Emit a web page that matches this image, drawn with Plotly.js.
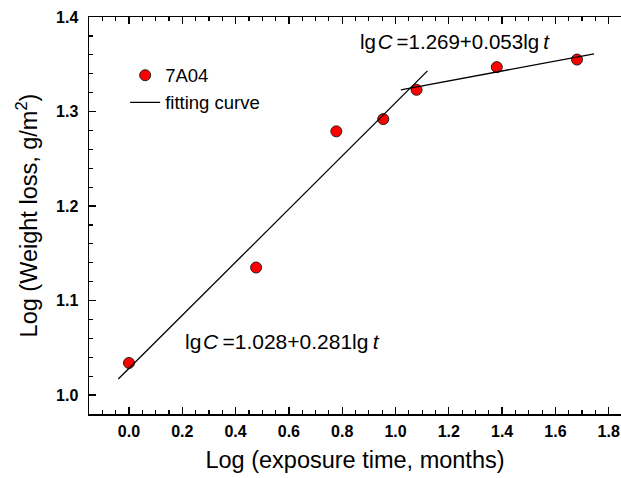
<!DOCTYPE html>
<html>
<head>
<meta charset="utf-8">
<script src="https://cdn.plot.ly/plotly-3.0.1.min.js"></script>
<style>html,body{margin:0;padding:0;background:#fff;}#chart{width:621px;height:478px;}</style>
</head>
<body>
<div id="chart"></div>
<script>
// Measured data (log exposure time, log weight loss)
const logTime = [0.0, 0.477, 0.778, 0.954, 1.079, 1.380, 1.681];
const logLoss = [1.034, 1.135, 1.279, 1.292, 1.323, 1.347, 1.355];
// Fitting lines (end points)
const fit1X = [-0.04, 1.12];
const fit1Y = [1.017, 1.343];
const fit2X = [1.02, 1.745];
const fit2Y = [1.323, 1.361];
const eq1 = 'lg\u200A<i>C</i>\u2009=1.028+0.281lg\u2009<i>t</i>';
const eq2 = 'lg\u200A<i>C</i>\u2009=1.269+0.053lg\u2009<i>t</i>';

const font = 'Arial, "Liberation Sans", sans-serif';

const traces = [
  {x: logTime, y: logLoss, type: 'scatter', mode: 'markers', name: '7A04',
   marker: {color: '#ff0000', size: 11, line: {color: '#222', width: 1}}},
  {x: fit1X, y: fit1Y, type: 'scatter', mode: 'lines', name: 'fitting curve',
   line: {color: '#000', width: 1.3}},
  {x: fit2X, y: fit2Y, type: 'scatter', mode: 'lines', name: 'fitting curve 2', showlegend: false,
   line: {color: '#000', width: 1.3}}
];

const layout = {
  width: 621, height: 478,
  margin: {l: 89, r: 0, t: 17, b: 64},
  paper_bgcolor: '#fff', plot_bgcolor: '#fff',
  font: {family: font, color: '#000'},
  showlegend: true,
  legend: {x: 0.068, y: 0.9, xanchor: 'left', yanchor: 'top', bgcolor: 'rgba(0,0,0,0)',
           font: {size: 18.5, family: font}, tracegroupgap: 0},
  xaxis: {
    range: [-0.15, 1.846], showgrid: false, zeroline: false,
    showline: true, linecolor: '#000', linewidth: 1.5, mirror: 'ticks',
    ticks: 'inside', ticklen: 7, tickwidth: 1.3, tickcolor: '#000',
    tick0: 0, dtick: 0.2, tickformat: '.1f',
    minor: {dtick: 0.05, tick0: 0, ticks: 'inside', ticklen: 4, tickwidth: 1.2, tickcolor: '#000'},
    tickfont: {size: 16, family: font, weight: 'bold'},
    ticklabelstandoff: 2,
    title: {text: 'Log (exposure time, months)', font: {size: 23.5, family: font}, standoff: 13}
  },
  yaxis: {
    range: [0.98, 1.4], showgrid: false, zeroline: false,
    showline: true, linecolor: '#000', linewidth: 1.5, mirror: false,
    ticks: 'inside', ticklen: 7, tickwidth: 1.3, tickcolor: '#000',
    tick0: 1.0, dtick: 0.1, tickformat: '.1f',
    minor: {dtick: 0.02, tick0: 1.0, ticks: 'inside', ticklen: 4, tickwidth: 1.2, tickcolor: '#000'},
    tickfont: {size: 16, family: font, weight: 'bold'},
    ticklabelstandoff: 6,
    title: {text: 'Log (Weight loss, g/m<sup>2</sup>)', font: {size: 23.5, family: font}, standoff: 12}
  },
  annotations: [
    {x: 0.577, y: 1.057, xref: 'x', yref: 'y', text: eq1, showarrow: false,
     font: {size: 21, family: font}},
    {x: 1.222, y: 1.374, xref: 'x', yref: 'y', text: eq2, showarrow: false,
     font: {size: 20.5, family: font}}
  ]
};

Plotly.newPlot('chart', traces, layout, {displayModeBar: false, staticPlot: true});
</script>
</body>
</html>
